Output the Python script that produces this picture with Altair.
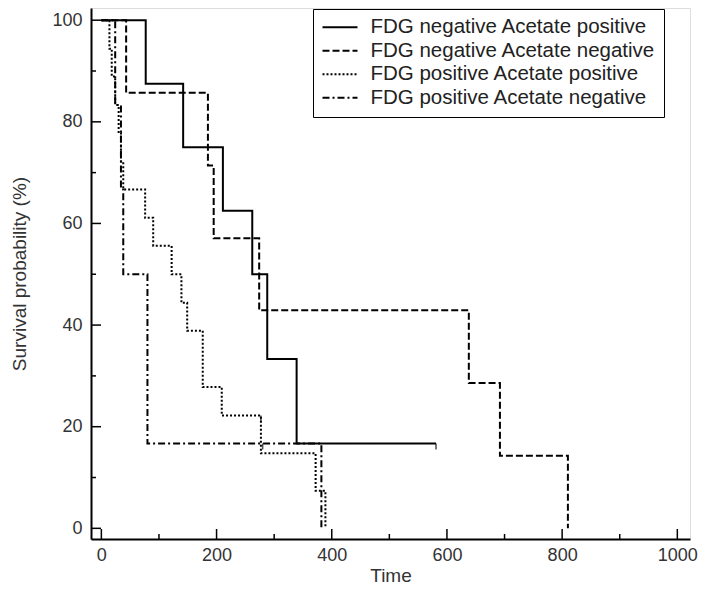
import altair as alt
import pandas as pd

groups = [
    "FDG negative Acetate positive",
    "FDG negative Acetate negative",
    "FDG positive Acetate positive",
    "FDG positive Acetate negative",
]

# Kaplan-Meier step points (time, survival %)
t_nap = [0, 77, 142, 211, 262, 288, 339, 581]
s_nap = [100, 87.5, 75, 62.5, 50, 33.3, 16.7, 16.7]

t_nan = [0, 43, 185, 195, 274, 638, 692, 810]
s_nan = [100, 85.7, 71.4, 57.1, 42.9, 28.6, 14.3, 0]

t_pap = [0, 14, 18, 24, 30, 34, 38, 76, 90, 122, 139, 149, 176, 209, 277, 372, 389]
s_pap = [100, 94.4, 88.9, 83.3, 77.8, 72.2, 66.7, 61.1, 55.6, 50, 44.4, 38.9, 27.8, 22.2, 14.8, 7.4, 0]

t_pan = [0, 24, 34, 38, 80, 382]
s_pan = [100, 83.3, 66.7, 50, 16.7, 0]

# censor marks
cen_group = [groups[0], groups[2], groups[3]]
cen_t = [581, 277, 280]
cen_s = [16.7, 22.2, 16.7]

x_major = [0, 200, 400, 600, 800, 1000]
x_minor = [100, 300, 500, 700, 900]
y_major = [0, 20, 40, 60, 80, 100]
y_minor = [10, 30, 50, 70, 90]

rows = []
for g, ts, ss in zip(groups, [t_nap, t_nan, t_pap, t_pan], [s_nap, s_nan, s_pap, s_pan]):
    for t, s in zip(ts, ss):
        rows.append({"group": g, "t": t, "s": s})
df = pd.DataFrame(rows)
cen = pd.DataFrame({"group": cen_group, "t": cen_t, "s": cen_s})

W, H = 599, 531
FONT = "Liberation Sans"

xscale = alt.Scale(domain=[-18, 1022], nice=False, zero=False)
yscale = alt.Scale(domain=[-2.1, 102.4], nice=False, zero=False)

dash = alt.StrokeDash(
    "group:N",
    scale=alt.Scale(domain=groups, range=[[1, 0], [7, 3], [2, 2], [7, 3, 2, 3]]),
    legend=alt.Legend(
        title=None,
        orient="none",
        legendX=222,
        legendY=1,
        symbolType="M-1,0H3",
        symbolSize=306,
        symbolStrokeWidth=2,
        symbolStrokeColor="black",
        symbolFillColor="transparent",
        labelFont=FONT,
        labelFontSize=20.5,
        labelColor="#222",
        labelOffset=29,
        labelLimit=420,
        rowPadding=2.5,
        padding=8,
        strokeColor="black",
        fillColor="white",
    ),
)

lines = alt.Chart(df).mark_line(interpolate="step-after", strokeWidth=2, color="black").encode(
    x=alt.X(
        "t:Q",
        scale=xscale,
        axis=alt.Axis(
            values=x_major, ticks=False, tickSize=0, grid=False, format="d",
            domainColor="black", domainWidth=2,
            labelFont=FONT, labelFontSize=18, labelColor="#333", labelPadding=7,
            title="Time", titleFont=FONT, titleFontSize=19, titleFontWeight="normal",
            titleColor="#333", titlePadding=2,
        ),
    ),
    y=alt.Y(
        "s:Q",
        scale=yscale,
        axis=alt.Axis(
            values=y_major, ticks=False, tickSize=0, grid=False, format="d",
            domainColor="black", domainWidth=2,
            labelFont=FONT, labelFontSize=18, labelColor="#333", labelPadding=9,
            title="Survival probability (%)", titleFont=FONT, titleFontSize=19,
            titleFontWeight="normal", titleColor="#333", titlePadding=22,
        ),
    ),
    strokeDash=dash,
    detail="group:N",
)

censor = alt.Chart(cen).mark_tick(orient="vertical", size=6, thickness=1.5, color="black", yOffset=3).encode(
    x=alt.X("t:Q", scale=xscale),
    y=alt.Y("s:Q", scale=yscale),
)

xmaj = alt.Chart(pd.DataFrame({"v": x_major})).mark_rule(color="black", strokeWidth=1.5).encode(
    x=alt.X("v:Q", scale=xscale), y=alt.value(H), y2=alt.value(H - 10)
)
xmin = alt.Chart(pd.DataFrame({"v": x_minor})).mark_rule(color="black", strokeWidth=1.5).encode(
    x=alt.X("v:Q", scale=xscale), y=alt.value(H), y2=alt.value(H - 5)
)
ymaj = alt.Chart(pd.DataFrame({"v": y_major})).mark_rule(color="black", strokeWidth=1.5).encode(
    y=alt.Y("v:Q", scale=yscale), x=alt.value(0), x2=alt.value(10)
)
ymin = alt.Chart(pd.DataFrame({"v": y_minor})).mark_rule(color="black", strokeWidth=1.5).encode(
    y=alt.Y("v:Q", scale=yscale), x=alt.value(0), x2=alt.value(5)
)

chart = (
    alt.layer(lines, censor, xmaj, xmin, ymaj, ymin)
    .properties(
        width=W,
        height=H,
        autosize=alt.AutoSizeParams(type="none"),
        padding={"left": 83, "top": 0, "right": 8, "bottom": 49},
        background="white",
    )
    .configure_view(stroke=None)
    .configure(font=FONT)
)

chart.save("out.html", embed_options={"renderer": "svg", "actions": False})
